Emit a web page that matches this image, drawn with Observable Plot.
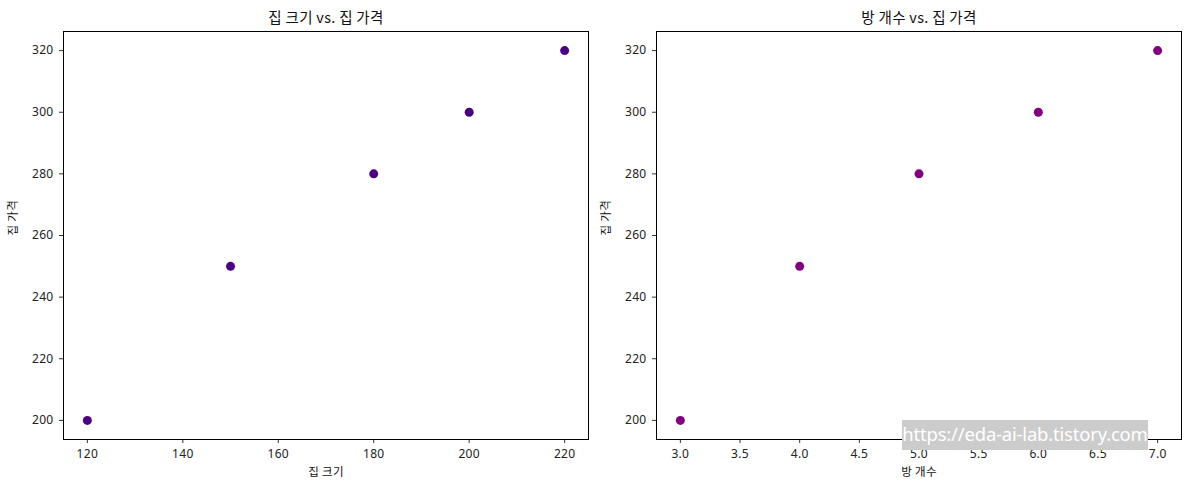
<!DOCTYPE html>
<html><head><meta charset="utf-8">
<script src="https://cdn.jsdelivr.net/npm/d3@7"></script>
<script src="https://cdn.jsdelivr.net/npm/@observablehq/plot@0.6"></script>
<style>
html,body{margin:0;padding:0;background:#fff;}
#wrap{position:relative;width:1189px;height:490px;overflow:hidden;font-family:"Noto Sans CJK KR","Noto Sans",sans-serif;}
#left,#right{position:absolute;top:0;}
#left{left:0;}
#right{left:594px;}
#wm{position:absolute;left:902px;top:420px;width:246px;height:30px;background:#cccccc;color:#fff;font-size:18.5px;line-height:28px;text-align:center;white-space:nowrap;font-family:"Noto Sans","DejaVu Sans",sans-serif;letter-spacing:-0.2px;}
</style></head>
<body>
<div id="wrap"><div id="left"></div><div id="right"></div><div id="wm">https://eda-ai-lab.tistory.com</div></div>
<script>
const houseSize = [120, 150, 180, 200, 220];
const rooms = [3, 4, 5, 6, 7];
const housePrice = [200, 250, 280, 300, 320];
const titles = ["집 크기 vs. 집 가격", "방 개수 vs. 집 가격"];
const xLabels = ["집 크기", "방 개수"];
const yLabel = "집 가격";
const colors = ["#4b0082", "#800080"];
const yTicks = [200, 220, 240, 260, 280, 300, 320];
const xTicksLeft = [120, 140, 160, 180, 200, 220];
const xTicksRight = [3.0, 3.5, 4.0, 4.5, 5.0, 5.5, 6.0, 6.5, 7.0];

function make(xs, xDomain, xTicks, xFmt, title, xLabel, color, width, ml, mr) {
  const data = xs.map((x, i) => ({x, y: housePrice[i]}));
  return Plot.plot({
    width, height: 490,
    marginLeft: ml, marginRight: mr, marginTop: 31, marginBottom: 51,
    style: {fontFamily: '"Noto Sans","Noto Sans CJK KR",sans-serif', fontSize: "12px", color: "#222", background: "#fff", letterSpacing: "0.3px"},
    x: {domain: xDomain, ticks: xTicks, tickFormat: xFmt, label: null},
    y: {domain: [193.8, 326.2], ticks: yTicks, label: null},
    marks: [
      Plot.axisX({ticks: xTicks, tickFormat: xFmt, tickSize: 4, tickPadding: 6, fontSize: 12, stroke: "#000", strokeWidth: 0.8}),
      Plot.axisY({ticks: yTicks, tickSize: 4, tickPadding: 6, fontSize: 12, stroke: "#000", strokeWidth: 0.8}),
      Plot.frame({stroke: "#000", strokeWidth: 1}),
      Plot.dot(data, {x: "x", y: "y", r: 4.5, fill: color, stroke: "none"}),
      Plot.text([title], {frameAnchor: "top", dy: -13, lineAnchor: "middle", fontSize: 14.5, fill: "#111", fontFamily: '"Noto Sans CJK KR",sans-serif', text: d => d}),
      Plot.text([xLabel], {frameAnchor: "bottom", dy: 33, lineAnchor: "middle", fontSize: 11.5, fill: "#111", fontFamily: '"Noto Sans CJK KR",sans-serif', text: d => d}),
      Plot.text([yLabel], {frameAnchor: "left", dx: -50, lineAnchor: "middle", rotate: -90, fontSize: 11.5, fill: "#111", fontFamily: '"Noto Sans CJK KR",sans-serif', text: d => d})
    ]
  });
}
document.getElementById("left").appendChild(
  make(houseSize, [115, 225], xTicksLeft, d3.format("d"), titles[0], xLabels[0], colors[0], 594, 63, 6));
document.getElementById("right").appendChild(
  make(rooms, [2.8, 7.2], xTicksRight, d3.format(".1f"), titles[1], xLabels[1], colors[1], 595, 62, 8));
</script>
</body></html>
